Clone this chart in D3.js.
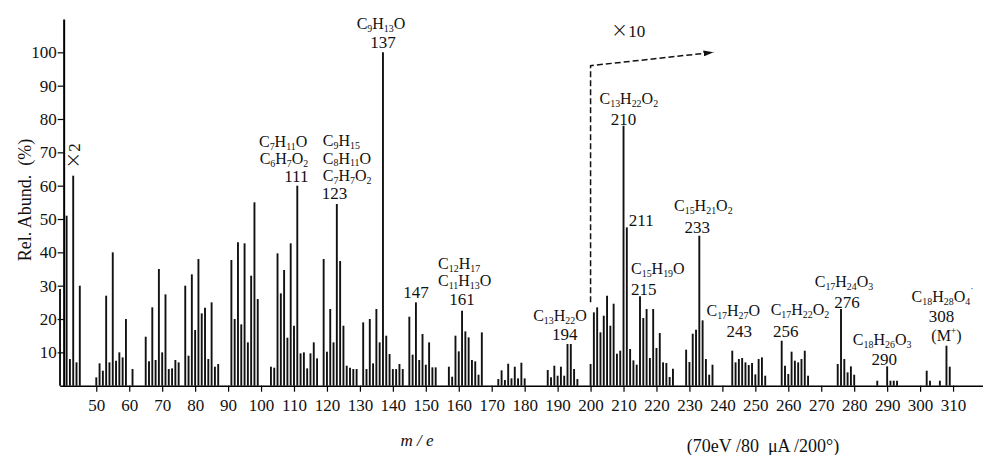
<!DOCTYPE html>
<html>
<head>
<meta charset="utf-8">
<script src="https://cdn.jsdelivr.net/npm/d3@7"></script>
<style>
  body { margin: 0; background: #fff; }
  svg text { font-family: "Liberation Serif", "Times New Roman", serif; fill: #111; }
</style>
</head>
<body>
<svg id="chart" width="983" height="455"></svg>
<script>
// m/e of each peak and its relative abundance (%)
const mz = [
  39, 41, 42, 43, 44, 45,
  50, 51, 52, 53, 54, 55, 56, 57, 58, 59, 61,
  65, 66, 67, 68, 69, 70, 71, 72, 73, 74, 75, 77, 78, 79, 80, 81, 82, 83, 84, 85, 86, 87,
  91, 92, 93, 94, 95, 96, 97, 98, 99,
  103, 104, 105, 106, 107, 108, 109, 110, 111, 112, 113, 114, 115, 116, 117,
  119, 120, 121, 122, 123, 124, 125, 126, 127, 128, 129,
  131, 132, 133, 134, 135, 136, 137, 138, 139, 140, 141, 142, 143,
  145, 146, 147, 148, 149, 150, 151, 152, 153,
  157, 158, 159, 160, 161, 162, 163, 164, 165, 166, 167,
  172, 173, 174, 175, 176, 177, 178, 179, 180,
  187, 188, 189, 190, 191, 192, 193, 194, 195, 196,
  200, 201, 202, 203, 204, 205, 206, 207, 208, 209, 210, 211, 212, 213, 214, 215,
  216, 217, 218, 219, 220, 221, 222, 223, 224, 225,
  229, 230, 231, 232, 233, 234, 235, 236, 237,
  243, 244, 245, 246, 247, 248, 249, 250, 251, 252, 253,
  258, 259, 260, 261, 262, 263, 264, 265, 266,
  275, 276, 277, 278, 279, 280,
  287, 290, 291, 292, 293, 302, 303, 306, 308, 309
];
const abund = [
  29, 51, 8, 63, 7, 30,
  2.5, 6.7, 4.5, 27, 7, 40, 7.5, 10, 8.5, 20, 5,
  14.7, 7.3, 23.5, 7.7, 35, 10, 27.4, 5, 5.2, 7.7, 7, 30, 9, 33.4, 16.7, 38, 21.7, 23.4, 8, 25, 5.7, 6.5,
  37.7, 20, 43, 18.4, 42.7, 13, 33, 55, 26,
  5.7, 5.4, 39.7, 27.7, 34.7, 14.4, 42.7, 18, 60, 9.7, 10, 5.2, 9.7, 13, 8.2,
  38, 10.2, 23, 13, 54.5, 37.4, 18, 6, 5.4, 5, 5,
  19, 5, 20, 6.7, 23, 13, 100, 15, 9.5, 5, 5, 6.5, 5,
  20.7, 9.3, 25, 7.7, 15.5, 6.3, 13, 5.5, 5.5,
  5.7, 2.7, 15, 10.3, 22.5, 16.3, 14.5, 7.7, 7.3, 3.3, 16,
  2, 4.6, 1.7, 6.6, 2.2, 5.7, 2.2, 6.9, 2.2,
  4.7, 2.5, 6, 3, 5.7, 3, 12.5, 12.5, 5, 2,
  6.5, 22, 23.5, 16, 21, 27, 18, 24.6, 9.6, 10.5, 78, 47.5, 11, 7.6, 6.3, 26.8,
  20.3, 23, 8.3, 23, 11.3, 15.8, 7, 6.8, 2.6, 5.1,
  10.8, 7.1, 15.6, 16.8, 45, 19.6, 8, 3.3, 6.3,
  10.5, 7, 8, 8.3, 7, 6.2, 6.8, 3.4, 8, 8.5, 3,
  13.5, 6, 3.5, 10.2, 7.5, 7, 8, 10.5, 3,
  6.5, 23, 8, 4, 5.8, 3.3,
  1.5, 5.8, 1.5, 1.5, 1.5, 4.5, 1.5, 1.5, 12, 5.7
];
const xTicks = d3.range(50, 311, 10);
const yTicks = d3.range(10, 101, 10);

const svg = d3.select("#chart");

const x = d3.scaleLinear().domain([38.9, 319.3]).range([59.7, 983.7]);
const y = d3.scaleLinear().domain([0, 110]).range([385.7, 19]);

// x axis
const xAxis = svg.append("g")
  .attr("transform", `translate(0,${y(0)})`)
  .call(d3.axisBottom(x).tickValues(xTicks).tickSize(6).tickSizeOuter(0).tickPadding(7));
xAxis.select(".domain").attr("stroke-width", 1.6);
xAxis.selectAll(".tick line").attr("stroke-width", 1.2);
xAxis.selectAll("text").attr("font-size", 17).attr("font-family", "Liberation Serif").attr("fill", "#111");

// y axis
const yAxis = svg.append("g")
  .attr("transform", `translate(${x(40.1)},0)`)
  .call(d3.axisLeft(y).tickValues(yTicks).tickSize(6).tickSizeOuter(0).tickPadding(1));
yAxis.select(".domain").attr("stroke-width", 2);
yAxis.selectAll(".tick line").attr("stroke-width", 1.2);
yAxis.selectAll("text").attr("font-size", 17).attr("font-family", "Liberation Serif").attr("fill", "#111");

// peaks
svg.append("g").selectAll("line")
  .data(d3.zip(mz, abund))
  .join("line")
  .attr("x1", d => x(d[0])).attr("x2", d => x(d[0]))
  .attr("y1", y(0)).attr("y2", d => y(d[1]))
  .attr("stroke", "#111")
  .attr("stroke-width", 1.9);

// text with subscripts (digits after a letter), superscripts (+, ˙) and a large ×
function rich(g, str, px, py, anchor, size) {
  const t = g.append("text").attr("x", px).attr("y", py)
    .attr("text-anchor", anchor).attr("font-size", size);
  const parts = str.match(/\d+|[+˙×]|[^\d+˙×]+/g);
  let shift = 0, prev = "";
  parts.forEach(p => {
    let target = 0, fs = size;
    if (/^\d+$/.test(p) && /[A-Za-z]$/.test(prev)) { target = 2.5; fs = size * 0.62; }
    else if (p === "+" || p === "˙") { target = -7; fs = size * 0.6; }
    const ts = t.append("tspan").attr("dy", target - shift).attr("font-size", fs).text(p);
    if (p === "×") ts.attr("font-family", "DejaVu Sans").attr("font-size", size * 1.2).attr("font-weight", 300);
    shift = target;
    prev = p;
  });
  return t;
}

// peak annotations: [m, text, anchor, dx, baseline y, size]
const notes = [
  [111, "C7H11O", "end", 10, 147, 16], [111, "C6H7O2", "end", 11, 164, 16], [111, "111", "middle", -1, 182, 17],
  [123, "C9H15", "start", -14, 146, 16], [123, "C8H11O", "start", -14, 163.5, 16], [123, "C7H7O2", "start", -14, 181, 16], [123, "123", "start", -15, 199, 17],
  [137, "C9H13O", "middle", -2, 29, 16], [137, "137", "middle", 0, 48, 17],
  [147, "147", "middle", 0, 298, 17],
  [161, "C12H17", "start", -24, 269, 16], [161, "C11H13O", "start", -24, 286, 16], [161, "161", "middle", 0, 305, 17],
  [194, "C13H22O", "end", 16, 321, 16], [194, "194", "middle", -6, 340, 17],
  [210, "C13H22O2", "start", -24, 104, 16], [210, "210", "middle", 0, 125, 17],
  [211, "211", "start", 2, 226, 17],
  [215, "C15H19O", "start", -9, 274, 16], [215, "215", "start", -9, 295, 17],
  [233, "C15H21O2", "middle", 4, 211, 16], [233, "233", "middle", -2, 233, 17],
  [243, "C17H27O", "middle", 1, 316, 16], [243, "243", "middle", 7, 337, 17],
  [258, "C17H22O2", "start", -11, 315, 16], [258, "256", "middle", 4, 337, 17],
  [276, "C17H24O3", "middle", 3, 287, 16], [276, "276", "middle", 6, 308, 17],
  [290, "C18H26O3", "middle", -5, 345, 16], [290, "290", "middle", -3, 365, 17],
  [308, "C18H28O4˙", "middle", -4, 302, 16], [308, "308", "middle", -5, 322, 17], [308, "(M+)", "middle", 0, 341, 16]
];
const ann = svg.append("g");
notes.forEach(n => rich(ann, n[1], x(n[0]) + n[3], n[4], n[2], n[5]));

// ×10 scale-change marker
svg.append("defs").append("marker")
  .attr("id", "arrow").attr("viewBox", "0 0 10 6").attr("refX", 10).attr("refY", 3)
  .attr("markerWidth", 10).attr("markerHeight", 6).attr("markerUnits", "userSpaceOnUse")
  .attr("orient", "auto")
  .append("path").attr("d", "M0,0L10,3L0,6Z").attr("fill", "#111");

svg.append("path")
  .datum([[200, 25], [200, 96], [237.3, 100]])
  .attr("d", d3.line().x(d => x(d[0])).y(d => y(d[1])))
  .attr("fill", "none").attr("stroke", "#111").attr("stroke-width", 1.5)
  .attr("stroke-dasharray", "6,3")
  .attr("marker-end", "url(#arrow)");

rich(svg, "×10", x(211.4), 37, "middle", 17);

const x2 = svg.append("g").attr("transform", `translate(${x(45.2)},156) rotate(-90)`);
rich(x2, "×2", 0, 0, "middle", 17);

// axis titles
svg.append("text").attr("transform", "translate(31,200) rotate(-90)")
  .attr("text-anchor", "middle").attr("font-size", 18)
  .style("white-space", "pre").text("Rel. Abund.  (%)");

svg.append("text").attr("x", 417).attr("y", 446)
  .attr("text-anchor", "middle").attr("font-size", 17).attr("font-style", "italic")
  .style("white-space", "pre").text("m / e");

svg.append("text").attr("x", 763).attr("y", 452)
  .attr("text-anchor", "middle").attr("font-size", 18)
  .style("white-space", "pre").text("(70eV /80  μA /200°)");
</script>
</body>
</html>
